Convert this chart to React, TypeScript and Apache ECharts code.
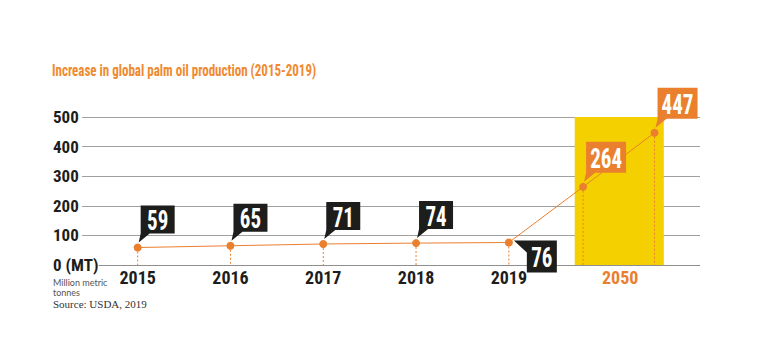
import React, { useEffect, useRef } from "react";
import * as echarts from "echarts";

const titleText = "Increase in global palm oil production (2015-2019)";
const yearLabels = ["2015", "2016", "2017", "2018", "2019", "2050"];
const yearLabelSlots = [0, 1, 2, 3, 4, 5.2];
const pointSlots = [0, 1, 2, 3, 4, 4.8, 5.57];
const values = [59, 65, 71, 74, 76, 264, 447];
const labelPlacement = ["up", "up", "up", "up", "down", "up", "up"];
const isProjection = [false, false, false, false, false, true, true];
const projectionSpan = [4.71, 5.67];
const yTicks = [0, 100, 200, 300, 400, 500];
const unitNote = ["Million metric", "tonnes"];
const sourceText = "Source: USDA, 2019";

const NARROW = "'Liberation Sans Narrow', 'Roboto Condensed', 'DejaVu Sans Condensed', 'Liberation Sans', sans-serif";
const ORANGE = "#EA7F2E";
const TITLE_ORANGE = "#EF8A30";
const DARK = "#1d1d1b";
const YELLOW = "#F4D000";
const GRID = "#a0a0a0";

export default function App() {
  const ref = useRef<HTMLDivElement>(null);
  useEffect(() => {
    if (!ref.current) return;
    const chart = echarts.init(ref.current, null, { renderer: "svg" });
    const xMin = -0.6;
    const xMax = 6.06;
    const option: any = {
      animation: false,
      backgroundColor: "#ffffff",
      graphic: [
        {
          type: "text",
          x: 52,
          y: 70,
          scaleY: 1.25,
          style: {
            text: titleText,
            x: 0,
            y: 0,
            verticalAlign: "middle",
            fill: TITLE_ORANGE,
            font: `bold 13px ${NARROW}`,
          },
        },
        { type: "text", left: 53, top: 277, style: { text: unitNote[0], fontSize: 9, lineHeight: 10, fill: "#555", fontFamily: "Lato, sans-serif" } },
        { type: "text", left: 53, top: 287, style: { text: unitNote[1], fontSize: 9, lineHeight: 10, fill: "#555", fontFamily: "Lato, sans-serif" } },
        { type: "text", left: 53, top: 298, style: { text: sourceText, fontSize: 11, lineHeight: 12, fill: "#333", fontFamily: "'Liberation Serif', serif" } },
      ],
      grid: { left: 82, right: 62, top: 117, bottom: 89, containLabel: false },
      xAxis: {
        type: "value",
        min: xMin,
        max: xMax,
        interval: 0.1,
        axisLine: { show: false },
        axisTick: { show: false },
        splitLine: { show: false },
        axisLabel: {
          margin: 3,
          color: DARK,
          fontSize: 18,
          fontWeight: "bold",
          fontFamily: NARROW,
          formatter: (v: number) => {
            const k = Math.round(v * 10);
            const i = yearLabelSlots.findIndex((s) => Math.round(s * 10) === k);
            if (i < 0) return "";
            return i === yearLabels.length - 1 ? `{o|${yearLabels[i]}}` : yearLabels[i];
          },
          rich: {
            o: { color: ORANGE, fontSize: 18, fontWeight: "bold", fontFamily: NARROW },
          },
        },
      },
      yAxis: {
        type: "value",
        min: yTicks[0],
        max: yTicks[yTicks.length - 1],
        interval: 100,
        axisLine: { show: false },
        axisTick: { show: false },
        splitLine: { show: true, lineStyle: { color: ["transparent", GRID, GRID, GRID, GRID, GRID], width: 1 } },
        axisLabel: {
          align: "left",
          margin: 29,
          color: DARK,
          fontSize: 17,
          fontWeight: "bold",
          fontFamily: NARROW,
          formatter: (v: number) => (v === 0 ? "0 (MT)" : String(v)),
        },
      },
      series: [
        {
          type: "line",
          z: -1,
          data: [],
          markArea: {
            silent: true,
            itemStyle: { color: YELLOW },
            data: [[{ coord: [projectionSpan[0], yTicks[0]] }, { coord: [projectionSpan[1], yTicks[yTicks.length - 1]] }]],
          },
        },
        {
          type: "custom",
          z: 2,
          data: pointSlots.map((s, i) => [s, values[i]]),
          renderItem: (params: any, api: any) => {
            const p = api.coord([api.value(0), api.value(1)]);
            const b = api.coord([api.value(0), 0]);
            return {
              type: "line",
              shape: { x1: p[0], y1: p[1], x2: b[0], y2: b[1] },
              style: { stroke: ORANGE, lineWidth: 1, lineDash: [2, 2] },
            };
          },
        },
        {
          type: "line",
          z: 3,
          data: pointSlots.map((s, i) => [s, values[i]]),
          symbol: "circle",
          symbolSize: 8,
          itemStyle: { color: ORANGE },
          lineStyle: { color: ORANGE, width: 1 },
          markLine: {
            silent: true,
            symbol: "none",
            label: { show: false },
            lineStyle: { color: "#8f8f8f", type: "solid", width: 1 },
            data: [[{ coord: [-0.42, 0] }, { coord: [xMax, 0] }]],
          },
        },
        {
          type: "custom",
          z: 5,
          data: pointSlots.map((s, i) => [s, values[i]]),
          renderItem: (params: any, api: any) => {
            const i = params.dataIndex;
            const p = api.coord([api.value(0), api.value(1)]);
            const px = p[0];
            const py = p[1];
            const text = String(values[i]);
            const three = text.length === 3;
            const fill = isProjection[i] ? ORANGE : DARK;
            let points: number[][];
            let cx: number;
            let cy: number;
            if (labelPlacement[i] === "up") {
              const w = three ? 40 : 34;
              const h = three ? 31 : 28;
              const bl = px + 3;
              const bottom = py - 14;
              const top = bottom - h;
              points = [[bl, top], [bl + w, top], [bl + w, bottom], [bl + 9, bottom], [px + 1, py - 5], [bl, bottom]];
              cx = bl + w / 2;
              cy = (top + bottom) / 2;
            } else {
              const w = 30;
              const h = 32;
              const bl = px + 18;
              const top = py - 2;
              const bottom = top + h;
              points = [[px + 5, top], [bl + w, top], [bl + w, bottom], [bl, bottom], [bl, top + 12]];
              cx = bl + w / 2;
              cy = (top + bottom) / 2;
            }
            return {
              type: "group",
              children: [
                { type: "polygon", shape: { points }, style: { fill } },
                {
                  type: "text",
                  x: cx,
                  y: cy + 1,
                  scaleY: 1.3,
                  style: {
                    text,
                    x: 0,
                    y: 0,
                    align: "center",
                    verticalAlign: "middle",
                    fill: "#ffffff",
                    font: `bold ${three ? 21 : 21}px ${NARROW}`,
                  },
                },
              ],
            };
          },
        },
      ],
    };
    chart.setOption(option);
    return () => chart.dispose();
  }, []);
  return <div ref={ref} style={{ width: 762, height: 354, position: "absolute", left: 0, top: 0 }} />;
}
